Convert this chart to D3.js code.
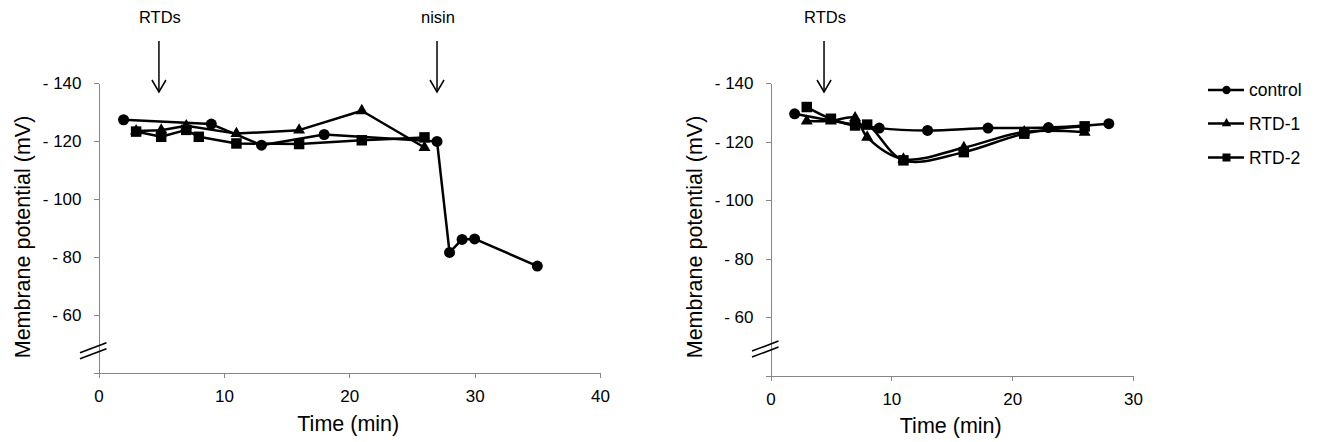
<!DOCTYPE html>
<html>
<head>
<meta charset="utf-8">
<script src="https://cdn.jsdelivr.net/npm/d3@7"></script>
<style>
  body { margin: 0; background: #fff; }
  svg { display: block; font-family: "Liberation Sans", Arial, sans-serif; }
  .axis path, .axis line { stroke: #868686; shape-rendering: crispEdges; }
  .axis text { fill: #000; font-size: 17px; font-family: "Liberation Sans", Arial, sans-serif; }
</style>
</head>
<body>
<svg width="1318" height="442"></svg>
<script>
// series names, one per marker
const seriesNames = ['control', 'RTD-1', 'RTD-2']

// left panel (nisin added at 27 min)
const leftControlT = [2, 9, 13, 18, 27, 28, 29, 30, 35]
const leftControlV = [-127.4, -125.9, -118.6, -122.3, -119.9, -81.5, -86.0, -86.2, -76.8]
const leftRtd1T = [3, 5, 7, 11, 16, 21, 26]
const leftRtd1V = [-123.5, -123.8, -125.3, -122.6, -123.8, -130.5, -117.8]
const leftRtd2T = [3, 5, 7, 8, 11, 16, 21, 26]
const leftRtd2V = [-123.3, -121.5, -123.9, -121.5, -119.2, -119.0, -120.3, -121.3]
const leftTicksX = [0, 10, 20, 30, 40]
const leftArrowT = [4.82, 27]
const leftArrowText = ['RTDs', 'nisin']

// right panel
const rightControlT = [2, 9, 13, 18, 23, 28]
const rightControlV = [-129.5, -124.6, -123.8, -124.6, -124.8, -126.1]
const rightRtd1T = [3, 5, 7, 8, 11, 16, 21, 26]
const rightRtd1V = [-127.0, -127.0, -128.1, -121.5, -114.0, -117.9, -123.3, -123.2]
const rightRtd2T = [3, 5, 7, 8, 11, 16, 21, 26]
const rightRtd2V = [-131.8, -127.8, -125.5, -125.8, -113.6, -116.4, -122.7, -125.2]
const rightTicksX = [0, 10, 20, 30]
const rightArrowT = [4.43]
const rightArrowText = ['RTDs']

// shared y ticks (the -40 tick sits on the broken part of the axis)
const yTicks = [-40, -60, -80, -100, -120, -140]

const zip = (ts, vs) => ts.map((t, i) => ({ t: t, v: vs[i] }))

const symbols = [d3.symbolCircle, d3.symbolTriangle, d3.symbolSquare]
const symbolSize = [95, 62, 110]
const legendSize = [55, 38, 64]

const svg = d3.select('svg')

function drawPanel(p) {
  const x = d3.scaleLinear().domain(p.xDomain).range(p.xRange)
  const y = d3.scaleLinear().domain([-40, -140]).range(p.yRange)

  svg.append('g')
    .attr('class', 'axis')
    .attr('transform', `translate(0,${p.yRange[0]})`)
    .call(d3.axisBottom(x).tickValues(p.ticksX).tickSize(5).tickSizeOuter(0).tickPadding(12))

  svg.append('g')
    .attr('class', 'axis')
    .attr('transform', `translate(${p.xRange[0]},0)`)
    .call(d3.axisLeft(y).tickValues(yTicks).tickSize(5).tickSizeOuter(0).tickPadding(12)
      .tickFormat(d => d === -40 ? '' : '- ' + Math.abs(d)))

  svg.selectAll('.axis .domain').attr('stroke', '#868686')

  // axis break
  const by = y(p.breakV)
  ;[-3, 3].forEach(off => {
    svg.append('line')
      .attr('x1', p.xRange[0] - 18.5).attr('y1', by + off + 5)
      .attr('x2', p.xRange[0] + 8).attr('y2', by + off - 5)
      .attr('stroke', '#000').attr('stroke-width', 1.6)
  })

  // lines + markers
  const line = d3.line().x(d => x(d.t)).y(d => y(d.v)).curve(p.curve)
  p.series.forEach((s, i) => {
    svg.append('path')
      .datum(s)
      .attr('d', line)
      .attr('fill', 'none')
      .attr('stroke', '#000')
      .attr('stroke-width', 2.5)
      .attr('stroke-linejoin', 'round')
  })
  p.series.forEach((s, i) => {
    svg.selectAll(null)
      .data(s)
      .enter()
      .append('path')
      .attr('d', d3.symbol().type(symbols[i]).size(symbolSize[i]))
      .attr('transform', d => `translate(${x(d.t)},${y(d.v)})`)
      .attr('fill', '#000')
  })

  // arrows for additions
  p.arrowT.forEach((t, i) => {
    const ax = x(t)
    svg.append('text')
      .attr('x', ax + 1).attr('y', 23)
      .attr('text-anchor', 'middle')
      .style('font-size', '16.5px')
      .text(p.arrowText[i])
    svg.append('line')
      .attr('x1', ax).attr('y1', 41).attr('x2', ax).attr('y2', 92)
      .attr('stroke', '#000').attr('stroke-width', 1.5)
    svg.append('path')
      .attr('d', `M${ax - 7},80L${ax},92L${ax + 7},80`)
      .attr('fill', 'none').attr('stroke', '#000').attr('stroke-width', 1.5)
  })

  // axis titles
  svg.append('text')
    .attr('transform', `translate(${p.yTitleX},237) rotate(-90)`)
    .attr('text-anchor', 'middle')
    .attr('dy', '0.35em')
    .style('font-size', '21.5px')
    .text('Membrane potential (mV)')
  svg.append('text')
    .attr('x', (p.xRange[0] + p.xRange[1]) / 2 - 1)
    .attr('y', p.xTitleY)
    .attr('text-anchor', 'middle')
    .style('font-size', '21.5px')
    .text('Time (min)')
}

drawPanel({
  xDomain: [0, 40], xRange: [98.5, 600], yRange: [372.5, 83.3],
  ticksX: leftTicksX, breakV: -47.5, curve: d3.curveLinear,
  series: [zip(leftControlT, leftControlV), zip(leftRtd1T, leftRtd1V), zip(leftRtd2T, leftRtd2V)],
  arrowT: leftArrowT, arrowText: leftArrowText,
  yTitleX: 22, xTitleY: 431
})

drawPanel({
  xDomain: [0, 30], xRange: [770.5, 1133], yRange: [376, 83],
  ticksX: rightTicksX, breakV: -49.2, curve: d3.curveCatmullRom,
  series: [zip(rightControlT, rightControlV), zip(rightRtd1T, rightRtd1V), zip(rightRtd2T, rightRtd2V)],
  arrowT: rightArrowT, arrowText: rightArrowText,
  yTitleX: 694, xTitleY: 433
})

// legend
const legend = svg.append('g')
const legendRows = [90, 123.5, 157.5]
seriesNames.forEach((name, i) => {
  const ly = legendRows[i]
  legend.append('line')
    .attr('x1', 1208).attr('x2', 1244).attr('y1', ly).attr('y2', ly)
    .attr('stroke', '#000').attr('stroke-width', 2.5)
  legend.append('path')
    .attr('d', d3.symbol().type(symbols[i]).size(legendSize[i]))
    .attr('transform', `translate(1226.5,${ly})`)
    .attr('fill', '#000')
  legend.append('text')
    .attr('x', 1249).attr('y', ly).attr('dy', '0.35em')
    .style('font-size', '17.5px')
    .text(name)
})
</script>
</body>
</html>
